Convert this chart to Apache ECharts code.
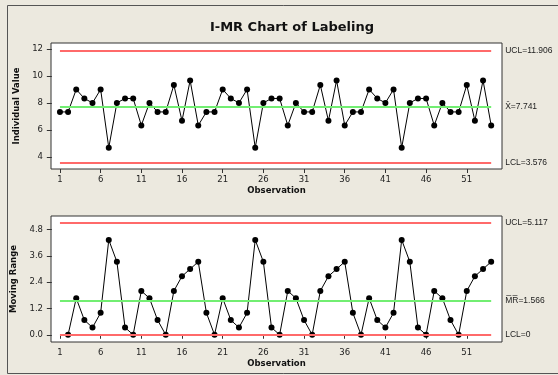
<!DOCTYPE html>
<html><head><meta charset="utf-8">
<script src="https://cdn.jsdelivr.net/npm/echarts@6/dist/echarts.min.js"></script>
<style>html,body{margin:0;padding:0;background:#ECE9DF}#c{width:558px;height:375px}</style>
</head><body><div id="c"></div>
<script>
const chartTitle = 'I-MR Chart of Labeling';
const individual = [7.33,7.33,9,8.33,8,9,4.67,8,8.33,8.33,6.33,8,7.33,7.33,9.33,6.67,9.67,6.33,
  7.33,7.33,9,8.33,8,9,4.67,8,8.33,8.33,6.33,8,7.33,7.33,9.33,6.67,9.67,6.33,
  7.33,7.33,9,8.33,8,9,4.67,8,8.33,8.33,6.33,8,7.33,7.33,9.33,6.67,9.67,6.33];
const movingRange = [0,1.67,0.67,0.33,1,4.33,3.33,0.33,0,2,1.67,0.67,0,2,2.67,3,3.33,
  1,0,1.67,0.67,0.33,1,4.33,3.33,0.33,0,2,1.67,0.67,0,2,2.67,3,3.33,
  1,0,1.67,0.67,0.33,1,4.33,3.33,0.33,0,2,1.67,0.67,0,2,2.67,3,3.33];
const xTicks = [1,6,11,16,21,26,31,36,41,46,51];
const indTicks = [4,6,8,10,12];
const mrTicks = [0,1.2,2.4,3.6,4.8];
const indUCL = 11.906, indCenter = 7.741, indLCL = 3.576;
const mrUCL = 5.117, mrCenter = 1.566, mrLCL = 0;
const indLabels = ['UCL=11.906', 'X\u0304=7.741', 'LCL=3.576'];
const mrLabels = ['UCL=5.117', 'M\u0305R\u0305=1.566', 'LCL=0'];

const RED = '#ff6a6a', GREEN = '#72ee72', FONT = 'DejaVu Sans';
const firstObs = 1, lastObs = individual.length;

function limitLines(vals, labels) {
  const colors = [RED, GREEN, RED];
  return vals.map((v, k) => [
    { coord: [firstObs, v], lineStyle: { color: colors[k], width: 2, type: 'solid' },
      label: { show: true, position: 'end', formatter: labels[k], distance: 14,
        color: '#222', fontSize: 8.5, fontFamily: 'Liberation Sans' } },
    { coord: [lastObs, v] }
  ]);
}

function xAxisFor(gi) {
  return {
    gridIndex: gi, type: 'value', min: -0.1, max: 55.33,
    name: 'Observation', nameLocation: 'middle', nameGap: 17,
    nameTextStyle: { fontSize: 8.5, fontWeight: 'bold', fontFamily: FONT, color: '#111' },
    axisLine: { show: false },
    axisTick: { show: true, customValues: xTicks, length: 4, lineStyle: { color: '#333' } },
    axisLabel: { customValues: xTicks, margin: 6, fontSize: 8.5, fontFamily: FONT, color: '#222' },
    splitLine: { show: false }
  };
}
function yAxisFor(gi, min, max, ticks, name, fmt) {
  return {
    gridIndex: gi, type: 'value', min: min, max: max,
    name: name, nameLocation: 'middle', nameGap: 26,
    nameTextStyle: { fontSize: 8.5, fontWeight: 'bold', fontFamily: FONT, color: '#111' },
    axisLine: { show: false },
    axisTick: { show: true, customValues: ticks, length: 5, lineStyle: { color: '#333' } },
    axisLabel: { customValues: ticks, margin: 8, fontSize: 8.5, fontFamily: FONT, color: '#222', formatter: fmt },
    splitLine: { show: false }
  };
}

const chart = echarts.init(document.getElementById('c'), null, { renderer: 'canvas' });
chart.setOption({
  animation: false,
  backgroundColor: '#ECE9DF',
  title: { text: chartTitle, left: 287, top: 16, textAlign: 'center',
    textStyle: { fontSize: 13, fontWeight: 'bold', fontFamily: FONT, color: '#111' } },
  graphic: [{ type: 'rect', shape: { x: 7.5, y: 5.5, width: 600, height: 368 },
    style: { fill: 'none', stroke: '#555', lineWidth: 1 }, silent: true, z: -1 }],
  grid: [
    { left: 51, right: 56, top: 43, height: 126, show: true, backgroundColor: '#fff', borderColor: '#333', borderWidth: 1 },
    { left: 51, right: 56, top: 216, height: 126, show: true, backgroundColor: '#fff', borderColor: '#333', borderWidth: 1 }
  ],
  xAxis: [xAxisFor(0), xAxisFor(1)],
  yAxis: [
    yAxisFor(0, 3.09, 12.45, indTicks, 'Individual Value', v => String(v)),
    yAxisFor(1, -0.33, 5.42, mrTicks, 'Moving Range', v => v.toFixed(1))
  ],
  series: [
    { type: 'line', xAxisIndex: 0, yAxisIndex: 0, data: individual.map((v, i) => [i + 1, v]),
      symbol: 'circle', symbolSize: 6, itemStyle: { color: '#000' }, lineStyle: { color: '#000', width: 1 },
      markLine: { silent: true, symbol: 'none', animation: false, data: limitLines([indUCL, indCenter, indLCL], indLabels) }, z: 3 },
    { type: 'line', xAxisIndex: 1, yAxisIndex: 1, data: movingRange.map((v, i) => [i + 2, v]),
      symbol: 'circle', symbolSize: 6, itemStyle: { color: '#000' }, lineStyle: { color: '#000', width: 1 },
      markLine: { silent: true, symbol: 'none', animation: false, data: limitLines([mrUCL, mrCenter, mrLCL], mrLabels) }, z: 3 }
  ]
});
</script></body></html>
